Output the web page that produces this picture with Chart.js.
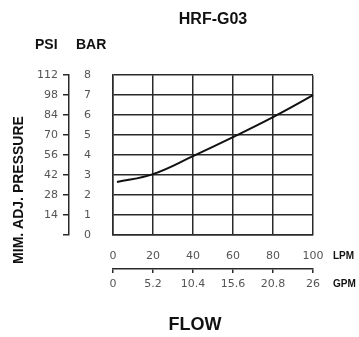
<!DOCTYPE html>
<html>
<head>
<meta charset="utf-8">
<script src="https://cdn.jsdelivr.net/npm/chart.js@4/dist/chart.umd.min.js"></script>
<style>
  html, body { margin: 0; padding: 0; background: #fff; }
  canvas { display: block; }
</style>
</head>
<body>
<canvas id="chartCanvas" width="359" height="337"></canvas>
<script>
// curve (flow in LPM, pressure in bar)
const flowLpm = [2, 20, 40, 60, 80, 100, 104];
const pressureBar = [2.65, 3.05, 3.95, 4.9, 5.9, 7.0, 7.27];

const lpmTicks = [0, 20, 40, 60, 80, 100];
const gpmTicks = [0, 5.2, 10.4, 15.6, 20.8, 26];
const barTicks = [0, 1, 2, 3, 4, 5, 6, 7, 8];
const psiTicks = [0, 14, 28, 42, 56, 70, 84, 98, 112];

const tickFont = { family: 'DejaVu Sans', size: 11 };
const ink = '#2a2a2a';

function fixedTicks(list) {
  return function (scale) {
    scale.ticks = list.map(v => ({ value: v }));
  };
}

// free texts: unit names, axis names
const freeText = {
  id: 'freeText',
  afterDraw(chart) {
    const { ctx, chartArea } = chart;
    ctx.save();
    ctx.fillStyle = '#111';
    ctx.textBaseline = 'middle';

    ctx.font = 'bold 14px "Liberation Sans"';
    ctx.textAlign = 'left';
    ctx.fillText('PSI', 35, 45);
    ctx.fillText('BAR', 76, 45);

    ctx.font = 'bold 10px "Liberation Sans"';
    ctx.fillText('LPM', chartArea.right + 20, 256);
    ctx.fillText('GPM', chartArea.right + 20, 284);

    ctx.font = 'bold 18px "Liberation Sans"';
    ctx.textAlign = 'center';
    ctx.fillText('FLOW', 195, 325);

    ctx.font = 'bold 14px "Liberation Sans"';
    ctx.translate(19, 190);
    ctx.rotate(-Math.PI / 2);
    ctx.fillText('MIM. ADJ. PRESSURE', 0, 0);
    ctx.restore();
  }
};

const ctx = document.getElementById('chartCanvas').getContext('2d');
new Chart(ctx, {
  type: 'line',
  data: {
    datasets: [{
      data: flowLpm.map((x, i) => ({ x: x, y: pressureBar[i] })),
      borderColor: '#111',
      borderWidth: 2,
      pointRadius: 0,
      fill: false,
      tension: 0.4,
      clip: false
    }]
  },
  options: {
    responsive: false,
    animation: false,
    devicePixelRatio: 1,
    layout: { padding: { left: 0, right: 46, top: 0, bottom: 0 } },
    plugins: {
      legend: { display: false },
      tooltip: { enabled: false },
      title: {
        display: true,
        text: 'HRF-G03',
        fullSize: false,
        color: '#111',
        font: { family: 'Liberation Sans', size: 16, weight: 'bold' },
        padding: { top: 10, bottom: 46 }
      }
    },
    scales: {
      x: {
        type: 'linear',
        position: 'bottom',
        min: 0,
        max: 100,
        afterBuildTicks: fixedTicks(lpmTicks),
        afterFit: s => { s.height = 34; },
        grid: { color: ink, lineWidth: 1.5, drawTicks: false },
        border: { color: ink, width: 1.5 },
        ticks: { color: '#555', font: tickFont, padding: 15, maxRotation: 0 }
      },
      x2: {
        type: 'linear',
        position: 'bottom',
        min: 0,
        max: 26,
        afterBuildTicks: fixedTicks(gpmTicks),
        afterFit: s => { s.height = 68; },
        grid: { drawOnChartArea: false, color: ink, lineWidth: 1.5, tickLength: 4 },
        border: { color: ink, width: 1.5 },
        ticks: { color: '#555', font: tickFont, padding: 5, maxRotation: 0 }
      },
      y: {
        type: 'linear',
        position: 'left',
        weight: 0,
        min: 0,
        max: 8,
        afterBuildTicks: fixedTicks(barTicks),
        afterFit: s => { s.width = 44; },
        grid: { color: ink, lineWidth: 1.5, drawTicks: false },
        border: { color: ink, width: 1.5 },
        ticks: { color: '#555', font: tickFont, padding: 22 }
      },
      yPsi: {
        type: 'linear',
        position: 'left',
        weight: 1,
        min: 0,
        max: 112,
        afterBuildTicks: fixedTicks(psiTicks),
        afterFit: s => { s.width = 69; },
        grid: { drawOnChartArea: false, color: ink, lineWidth: 1.5, tickLength: 6 },
        border: { color: ink, width: 1.5 },
        ticks: {
          color: '#555',
          font: tickFont,
          padding: 5,
          callback: v => (v === 0 ? '' : String(v))
        }
      }
    }
  },
  plugins: [freeText]
});
</script>
</body>
</html>
